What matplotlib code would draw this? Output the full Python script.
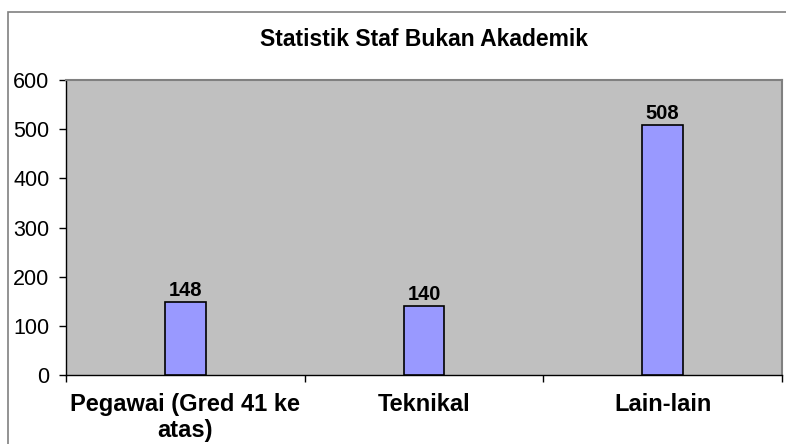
import matplotlib
matplotlib.use("Agg")
import matplotlib.pyplot as plt
from matplotlib.patches import Rectangle

categories = ["Pegawai (Gred 41 ke\natas)", "Teknikal", "Lain-lain"]
values = [148, 140, 508]
yticks = [0, 100, 200, 300, 400, 500, 600]
title = "Statistik Staf Bukan Akademik"

plt.rcParams['font.family'] = ['Liberation Sans', 'DejaVu Sans']

W, H = 786, 444
fig = plt.figure(figsize=(W/100, H/100), dpi=100)
fig.patch.set_facecolor('white')

# outer chart border
fig.add_artist(Rectangle((8/W, -0.05), 1.2, 1 - 12/H + 0.05, transform=fig.transFigure,
                         fill=False, edgecolor='#808080', linewidth=1.2))

ax = fig.add_axes([66/W, 1 - 375/H, (782-66)/W, (375-80)/H])
ax.set_facecolor('#C0C0C0')
x = list(range(len(categories)))
bars = ax.bar(x, values, width=0.17, color='#9999FF', edgecolor='black', linewidth=1.2, zorder=3)
for xi, v in zip(x, values):
    ax.text(xi, v + 5, str(v), ha='center', va='bottom', fontsize=14.5, fontweight='bold', zorder=4)

ax.set_xlim(-0.5, len(categories) - 0.5)
ax.set_ylim(0, 600)
ax.set_yticks(yticks)
ax.set_yticklabels([str(t) for t in yticks], fontsize=15.5)
ax.set_xticks(x)
ax.set_xticklabels(categories, fontsize=17, fontweight='bold', linespacing=1.15)
ax.tick_params(axis='x', length=0, pad=13)
ax.set_xticks([i + 0.5 for i in range(-1, len(categories))], minor=True)
ax.tick_params(axis='x', which='minor', length=5, width=1, direction='out')
ax.tick_params(axis='y', length=5, width=1, direction='out', pad=7)
for s in ['left', 'bottom']:
    ax.spines[s].set_color('black')
    ax.spines[s].set_linewidth(1)
for s in ['top', 'right']:
    ax.spines[s].set_color('#808080')
    ax.spines[s].set_linewidth(1.5)

fig.text((66+782)/2/W, 1 - 40/H, title, ha='center', va='center', fontsize=16.5, fontweight='bold')

fig.savefig('out.png', dpi=100)
